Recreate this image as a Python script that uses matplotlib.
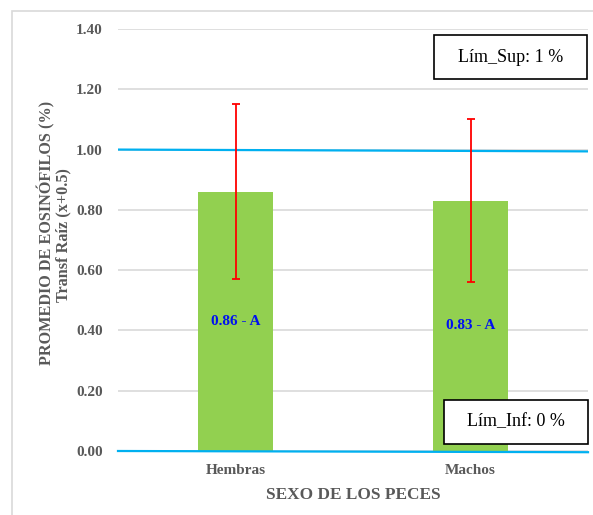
import matplotlib.pyplot as plt
from matplotlib.patches import Rectangle

categories = ["Hembras", "Machos"]
means = [0.86, 0.83]
errors = [0.29, 0.27]
bar_labels = ["0.86 - A", "0.83 - A"]
lim_x = [-0.5, 1.5]
lim_sup = [1.00, 0.994]
lim_inf = [0.00, -0.004]
yticks = [0.0, 0.2, 0.4, 0.6, 0.8, 1.0, 1.2, 1.4]

plt.rcParams['font.family'] = ['Liberation Serif', 'DejaVu Serif']

W, H = 593, 515
fig = plt.figure(figsize=(W/100, H/100), dpi=100)
ax = fig.add_axes([118/W, 1-451/H, 470/W, 422/H])

gray = '#595959'
x = range(len(categories))
ax.bar(x, means, width=0.315, color='#92D050', zorder=2)
ax.errorbar(x, means, yerr=errors, fmt='none', ecolor='#FF0000', elinewidth=1.3,
            capsize=3, capthick=1.3, zorder=3)
for xi, m, lab in zip(x, means, bar_labels):
    ax.text(xi, m/2, lab, ha='center', va='center', color='#0010F0',
            fontweight='bold', fontsize=11, zorder=4)

ax.plot(lim_x, lim_sup, color='#00B0F0', lw=1.6, zorder=2.5)
ax.plot(lim_x, lim_inf, color='#00B0F0', lw=1.6, zorder=2.5, clip_on=False)

ax.set_xlim(-0.5, 1.5)
ax.set_ylim(0, 1.4)
ax.set_yticks(yticks)
ax.set_yticklabels([f"{v:.2f}" for v in yticks])
ax.set_xticks(list(x))
ax.set_xticklabels(categories)
ax.tick_params(axis='both', length=0, colors=gray, labelsize=11)
for lab in ax.get_xticklabels() + ax.get_yticklabels():
    lab.set_fontweight('bold')
ax.tick_params(axis='y', pad=11)
ax.tick_params(axis='x', pad=9.5)
ax.grid(axis='y', color='#D9D9D9', lw=1.2, zorder=0)
ax.set_axisbelow(True)
for s in ax.spines.values():
    s.set_visible(False)

ax.set_xlabel("SEXO DE LOS PECES", color=gray, fontweight='bold', fontsize=12.4, labelpad=7)
fig.text(46/W, 1-233/H, "PROMEDIO DE EOSINÓFILOS (%)", rotation=90, ha='center',
         va='center', color=gray, fontweight='bold', fontsize=11.7)
fig.text(63/W, 1-235/H, "Transf Raíz (x+0.5)", rotation=90, ha='center',
         va='center', color=gray, fontweight='bold', fontsize=11.7)

# text boxes
def box(x0, y0, x1, y1, txt):
    fig.patches.append(Rectangle((x0/W, 1-y1/H), (x1-x0)/W, (y1-y0)/H,
                                 transform=fig.transFigure, fc='white', ec='black',
                                 lw=1.2, zorder=5))
    fig.text((x0+x1)/2/W, 1-(y0+y1)/2/H, txt, ha='center', va='center',
             fontsize=13, zorder=6)

box(434, 35, 587, 79, "Lím_Sup: 1 %")
box(444, 400, 588, 444, "Lím_Inf: 0 %")

fig.patches.append(Rectangle((12/W, -0.1), 1.2, 1.1 - 11/H, transform=fig.transFigure,
                             fill=False, ec='#D9D9D9', lw=1.2))

fig.savefig('out.png', dpi=100)
